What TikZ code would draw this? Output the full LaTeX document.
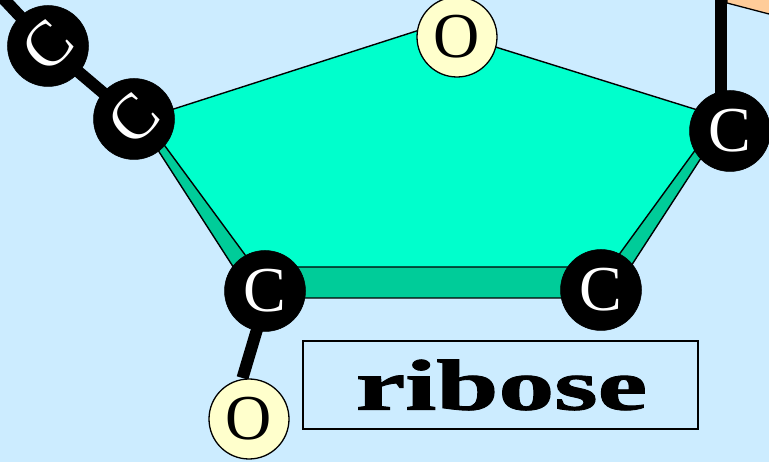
\documentclass[tikz,border=0pt]{standalone}
\usepackage{graphicx}
\usepackage{fontspec}
\setmainfont{Liberation Serif}
\newfontfamily\ribfont[BoldFeatures={FakeBold=1.2}]{Liberation Serif}
\definecolor{bgblue}{HTML}{CCECFF}
\definecolor{topface}{HTML}{00FFCC}
\definecolor{sideface}{HTML}{00CC99}
\definecolor{oxy}{HTML}{FFFFCC}
\definecolor{peach}{HTML}{FFCC99}
\tikzset{
  carbon/.style={circle,fill=black,draw=black,line width=0.5pt,minimum size=81pt,inner sep=0pt,text=white,font=\fontsize{64}{64}\selectfont},
  tilted/.style={carbon,rotate=45},
  oxygen/.style={circle,fill=oxy,draw=black,line width=1.3pt,minimum size=80pt,inner sep=0pt,text=black,font=\fontsize{64}{64}\selectfont},
  bond/.style={line width=12pt,draw=black},
  ringedge/.style={draw=black,line width=1.4pt,line join=miter},
  labelbox/.style={draw=black,line width=1.3pt,minimum width=395pt,minimum height=88pt,inner sep=0pt}
}
\begin{document}
\begin{tikzpicture}[x=1pt,y=-1pt]
\useasboundingbox (0,0) rectangle (769,462);
\fill[bgblue] (0,0) rectangle (769,462);
% positions
\coordinate (cTL) at (48,46);
\coordinate (cL) at (134,119);
\coordinate (oTop) at (457,37);
\coordinate (cR) at (730,131);
\coordinate (cBR) at (601,290);
\coordinate (cBL) at (265,291);
\coordinate (oB) at (249,419);
\coordinate (freeA) at (0,-5);
\coordinate (freeB) at (721,-5);
\coordinate (freeC) at (721,131);
\coordinate (freeD) at (242.5,378);
\coordinate (freeE) at (268.5,291);
% peach corner
\begin{scope}
\clip (0,0) rectangle (769,462);
\filldraw[fill=peach,draw=black,line width=1.3pt] (727,3) -- (769,14) -- (785,-10) -- (727,-10) -- cycle;
\draw[bond] (freeA) -- (cTL);
\draw[bond] (freeB) -- (freeC);
\end{scope}
\draw[bond] (cTL) -- (cL);
\draw[bond] (freeE) -- (freeD);
% ring side face
\draw[ringedge,fill=sideface] (145,130) -- (232,265) -- (250,298) -- (610,298) -- (633,263) -- (716,135) -- (700,125) -- (400,125) -- cycle;
% ring top face
\draw[ringedge,fill=topface] (155,115) -- (457,18) -- (457,35) -- (720,117) -- (715,123) -- (610,267) -- (254,267) -- (151,127) -- cycle;
% atoms
\node[tilted] (n1) at (cTL) {C};
\node[tilted] (n2) at (cL) {C};
\node[oxygen] (n3) at (oTop) {O};
\node[carbon] (n4) at (cR) {C};
\node[carbon] (n5) at (cBR) {C};
\node[carbon] (n6) at (cBL) {C};
\node[oxygen] (n7) at (oB) {O};
\node[labelbox] (lab) at (500.5,385) {\raisebox{-5pt}{\hspace{2pt}\fontsize{72}{72}\ribfont\bfseries\scalebox{1.55}[1]{ribose}}};
\end{tikzpicture}
\end{document}
